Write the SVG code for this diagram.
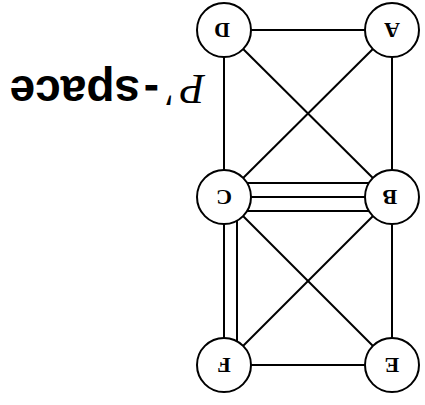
<svg xmlns="http://www.w3.org/2000/svg" width="425" height="405" viewBox="0 0 425 405">
<style>
.e{stroke:#000;stroke-width:2;fill:none}
.n circle{fill:#fff;stroke:#000;stroke-width:2}
.n text{font-family:"Liberation Serif",serif;font-weight:bold;font-size:22px;text-anchor:middle;dominant-baseline:central;fill:#000}
.t{font-family:"Liberation Sans",Arial,sans-serif;font-weight:bold;font-size:46px;fill:#000}
</style>
<rect width="425" height="405" fill="#fff"/>
<g id="edges">
<line class="e" x1="224" y1="30" x2="392" y2="30"/>
<line class="e" x1="224" y1="30" x2="224" y2="197"/>
<line class="e" x1="392" y1="30" x2="392" y2="197"/>
<line class="e" x1="224" y1="30" x2="392" y2="197"/>
<line class="e" x1="392" y1="30" x2="224" y2="197"/>
<line class="e" x1="224" y1="183" x2="392" y2="183"/>
<line class="e" x1="224" y1="197" x2="392" y2="197"/>
<line class="e" x1="224" y1="211" x2="392" y2="211"/>
<line class="e" x1="224" y1="197" x2="224" y2="365"/>
<line class="e" x1="237" y1="197" x2="237" y2="365"/>
<line class="e" x1="224" y1="197" x2="392" y2="365"/>
<line class="e" x1="392" y1="197" x2="224" y2="365"/>
<line class="e" x1="392" y1="197" x2="392" y2="365"/>
<line class="e" x1="224" y1="365" x2="392" y2="365"/>
</g>
<g id="D" class="n"><circle cx="224" cy="30" r="27"/><text x="224" y="30" transform="rotate(180 223 30)">D</text></g>
<g id="A" class="n"><circle cx="392" cy="30" r="27"/><text x="392" y="30" transform="rotate(180 392 30)">A</text></g>
<g id="C" class="n"><circle cx="224" cy="197" r="27"/><text x="224" y="197" transform="rotate(180 224 197)">C</text></g>
<g id="B" class="n"><circle cx="392" cy="197" r="27"/><text x="392" y="197" transform="rotate(180 391 197)">B</text></g>
<g id="F" class="n"><circle cx="224" cy="365" r="27"/><text x="224" y="365" transform="rotate(180 224 365)">F</text></g>
<g id="E" class="n"><circle cx="392" cy="365" r="27"/><text x="392" y="365" transform="rotate(180 392 365)">E</text></g>
<g id="title" transform="rotate(180 108 88)">
<text x="11" y="101" font-family="Liberation Serif, serif" font-style="italic" font-size="42">P</text>
<text x="43" y="97" font-family="Liberation Serif, serif" font-size="40">′</text>
<text class="t" x="57" y="100">-</text>
<text class="t" x="76" y="100">space</text>
</g>
</svg>
